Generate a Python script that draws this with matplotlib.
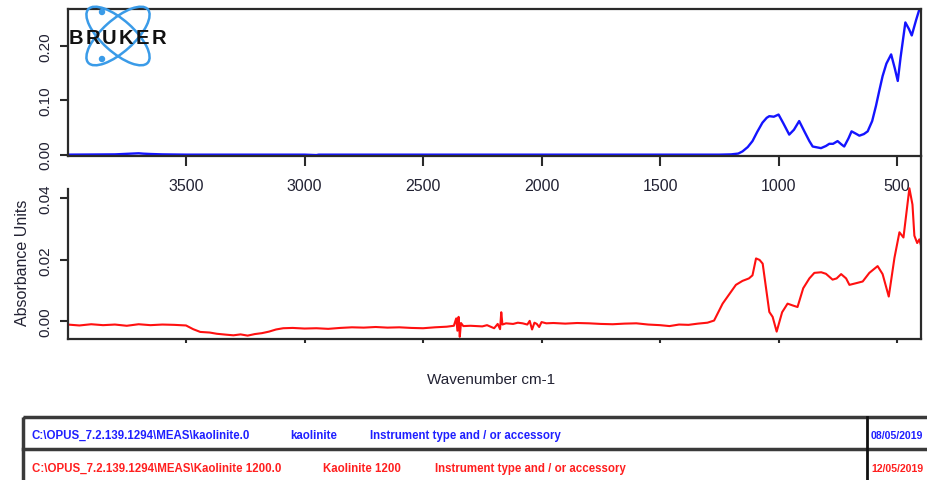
import numpy as np
import matplotlib
matplotlib.use("Agg")
import matplotlib.pyplot as plt
from matplotlib.patches import Ellipse, Circle, Rectangle

plt.rcParams['font.family'] = ['Liberation Sans', 'DejaVu Sans']

# blue spectrum: kaolinite
blue_wn = [4000, 3800, 3750, 3700, 3680, 3650, 3600, 3500, 3000, 2950, 2940, 2900, 2500,
           2000, 1500, 1250, 1200, 1170, 1152, 1130, 1110, 1090, 1068, 1050, 1039, 1020,
           1000, 980, 955, 935, 913, 890, 870, 856, 821, 800, 786, 770, 751, 735, 723,
           705, 692, 675, 659, 640, 624, 605, 589, 575, 561, 545, 525, 510, 497, 485,
           465, 450, 438, 420, 406, 400]
blue_abs = [0.0, 0.0005, 0.0015, 0.0025, 0.0018, 0.0012, 0.0005, 0.0, 0.0, -0.0008, 0.0, 0.0, 0.0,
            0.0, 0.0, 0.0, 0.0005, 0.002, 0.006, 0.014, 0.025, 0.042, 0.059, 0.068, 0.071, 0.070,
            0.074, 0.058, 0.037, 0.046, 0.062, 0.042, 0.025, 0.015, 0.012, 0.016, 0.020, 0.020,
            0.025, 0.019, 0.015, 0.030, 0.043, 0.039, 0.035, 0.038, 0.043, 0.062, 0.090, 0.118,
            0.145, 0.168, 0.185, 0.160, 0.136, 0.180, 0.244, 0.232, 0.220, 0.248, 0.268, 0.275]

# red spectrum: kaolinite 1200
red_wn = [4000, 3950, 3900, 3850, 3800, 3750, 3700, 3650, 3600, 3550, 3500, 3470, 3440, 3400,
          3370, 3330, 3300, 3270, 3240, 3210, 3180, 3150, 3120, 3090, 3050, 3000, 2950, 2900,
          2850, 2800, 2750, 2700, 2650, 2600, 2550, 2500, 2450, 2400, 2370, 2360, 2355, 2350,
          2345, 2340, 2330, 2300, 2250, 2230, 2200, 2185, 2175, 2170, 2165, 2150, 2120, 2100,
          2080, 2060, 2050, 2040, 2030, 2020, 2010, 2000, 1980, 1950, 1900, 1850, 1800, 1750,
          1700, 1650, 1600, 1550, 1500, 1460, 1420, 1380, 1340, 1300, 1272, 1236, 1180, 1152,
          1125, 1110, 1095, 1080, 1067, 1039, 1025, 1008, 985, 962, 940, 920, 896, 870, 849,
          820, 800, 772, 755, 736, 715, 701, 670, 645, 617, 582, 561, 535, 511, 490, 473, 448,
          435, 427, 415, 406, 400]
red_abs = [-0.0010, -0.0013, -0.0009, -0.0012, -0.0010, -0.0014, -0.0009, -0.0012, -0.0010,
           -0.0011, -0.0013, -0.0025, -0.0034, -0.0036, -0.0040, -0.0043, -0.0045, -0.0042,
           -0.0046, -0.0041, -0.0038, -0.0033, -0.0026, -0.0022, -0.0021, -0.0023, -0.0022,
           -0.0024, -0.0021, -0.0019, -0.0020, -0.0018, -0.0020, -0.0019, -0.0021, -0.0022,
           -0.0019, -0.0017, -0.0014, 0.0010, -0.0030, 0.0015, -0.0050, -0.0005, -0.0015,
           -0.0014, -0.0016, -0.0012, -0.0022, -0.0008, -0.0025, 0.0030, -0.0010, -0.0006,
           -0.0008, -0.0004, -0.0006, -0.0010, 0.0002, -0.0026, -0.0004, -0.0008, -0.0018,
           -0.0002, -0.0006, -0.0005, -0.0007, -0.0005, -0.0006, -0.0008, -0.0009, -0.0007,
           -0.0006, -0.0010, -0.0012, -0.0015, -0.0010, -0.0011, -0.0007, -0.0004, 0.0003,
           0.0058, 0.0119, 0.0132, 0.0140, 0.0150, 0.0205, 0.0200, 0.0188, 0.0031, 0.0015,
           -0.0033, 0.0030, 0.0058, 0.0052, 0.0047, 0.0108, 0.0140, 0.0158, 0.0160, 0.0155,
           0.0136, 0.0140, 0.0154, 0.0140, 0.0119, 0.0125, 0.0130, 0.0158, 0.0180, 0.0154,
           0.0081, 0.0207, 0.0290, 0.0273, 0.0433, 0.0380, 0.0279, 0.0255, 0.0267, 0.0250]

xticks = [3500, 3000, 2500, 2000, 1500, 1000, 500]

rows = [
    ("C:\\OPUS_7.2.139.1294\\MEAS\\kaolinite.0", "kaolinite",
     "Instrument type and / or accessory", "08/05/2019", "#1f1fff"),
    ("C:\\OPUS_7.2.139.1294\\MEAS\\Kaolinite 1200.0", "Kaolinite 1200",
     "Instrument type and / or accessory", "12/05/2019", "#ff1f1f"),
]

W, H = 928, 481
fig = plt.figure(figsize=(W / 100, H / 100), dpi=100)
txt = "#222233"
spc = "#2a2a2a"

# bottom panel (added first so the top panel's tick labels sit above it)
ax2 = fig.add_axes([68 / W, 1 - 340 / H, 853 / W, 183 / H])
ax2.patch.set_visible(False)
ax2.plot(red_wn, red_abs, color="#ff1010", lw=1.5)
ax2.set_xlim(3998, 399)
ax2.set_ylim(-0.0057, 0.0538)
ax2.set_xticks(xticks)
ax2.set_xticklabels([])
ax2.set_yticks([0.0, 0.02, 0.04])
ax2.set_yticklabels(["0.00", "0.02", "0.04"], rotation=90, va="center",
                    fontsize=11, color=txt)
ax2.tick_params(axis="x", direction="out", length=3, width=1.5, color=spc)
ax2.tick_params(axis="y", direction="out", length=6, width=1.5, pad=5, color=spc)
ax2.spines["top"].set_visible(False)
ax2.spines["left"].set_bounds(-0.0057, 0.0432)
for s in ax2.spines.values():
    s.set_linewidth(1.6)
    s.set_color(spc)
ax2.set_ylabel("Absorbance Units", fontsize=11.5, color=txt)
ax2.yaxis.set_label_coords(-38 / 853, (340 - 263) / 183)

# top panel
ax1 = fig.add_axes([68 / W, 1 - 157 / H, 853 / W, 147 / H])
ax1.patch.set_visible(False)
ax1.plot(blue_wn, blue_abs, color="#1414ff", lw=1.7)
ax1.set_xlim(3998, 399)
ax1.set_ylim(-0.0025, 0.2688)
ax1.set_xticks(xticks)
ax1.set_xticklabels([str(t) for t in xticks], fontsize=11.5, color=txt)
ax1.set_yticks([0.0, 0.1, 0.2])
ax1.set_yticklabels(["0.00", "0.10", "0.20"], rotation=90, va="center",
                    fontsize=11, color=txt)
ax1.tick_params(axis="x", direction="out", length=7, width=1.5, pad=9, color=spc)
ax1.tick_params(axis="y", direction="out", length=6, width=1.5, pad=5, color=spc)
for s in ax1.spines.values():
    s.set_linewidth(1.6)
    s.set_color(spc)

fig.text(491 / W, 1 - 380 / H, "Wavenumber cm-1", ha="center", va="center",
         fontsize=11, color=txt)

# overlay for logo and table, in pixel units
ov = fig.add_axes([0, 0, 1, 1], zorder=5)
ov.set_xlim(0, W)
ov.set_ylim(H, 0)
ov.axis("off")
ov.patch.set_alpha(0)

logo_c = "#3a9be8"
for ang in (42, -42):
    ov.add_patch(Ellipse((118, 37), 80, 32, angle=ang, fill=False,
                         ec=logo_c, lw=1.8))
ov.add_patch(Circle((102, 13), 2.5, color=logo_c))
ov.add_patch(Circle((102, 60), 2.5, color=logo_c))
for i, ch in enumerate("BRUKER"):
    ov.text(76 + 16.5 * i, 39, ch, fontsize=14.5, fontweight="heavy", color="#111111",
            ha="center", va="center")

ov.add_patch(Rectangle((23, 418), 940, 80, fill=False, ec="#3a3a3a", lw=2.5))
ov.plot([23, 940], [450, 450], color="#3a3a3a", lw=2.5)
ov.plot([867, 867], [418, 490], color="#111111", lw=2)

xs_text = [(32, 290, 370), (32, 323, 435)]
ys_text = [436, 469]
for (path, name, instr, date, col), xs, yy in zip(rows, xs_text, ys_text):
    for x0, s in zip(xs, (path, name, instr)):
        ov.text(x0, yy, s, fontsize=8.3, fontweight="bold", color=col, va="center")
    ov.text(871, yy, date, fontsize=7.6, fontweight="bold", color=col, va="center")

fig.savefig("out.png", dpi=100)
